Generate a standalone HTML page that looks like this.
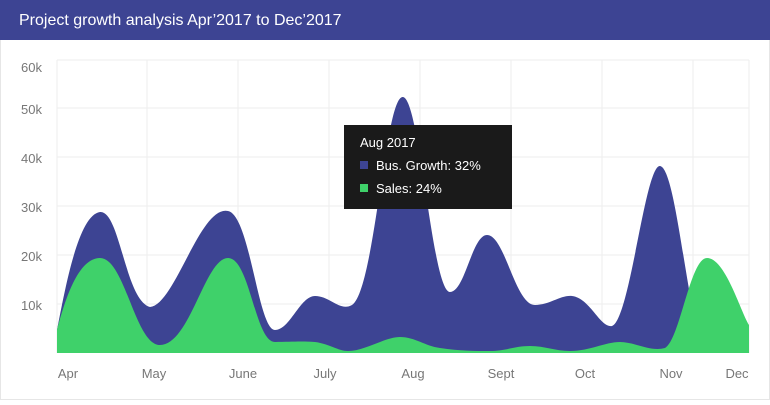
<!DOCTYPE html>
<html><head><style>
body{margin:0;width:770px;height:400px;background:#fff;font-family:"Liberation Sans",sans-serif;overflow:hidden}
</style></head><body>
<svg width="770" height="400" xmlns="http://www.w3.org/2000/svg">
<rect x="0.5" y="0.5" width="769" height="399" fill="#fff" stroke="#e6e6e6"/>
<rect x="0" y="0" width="770" height="40" fill="#3d4493"/>
<text x="19" y="25" fill="#fff" font-size="16">Project growth analysis Apr’2017 to Dec’2017</text>
<g stroke="#eeeeee" stroke-width="1">
<line x1="57" y1="60" x2="749" y2="60"/><line x1="57" y1="108" x2="749" y2="108"/>
<line x1="57" y1="157" x2="749" y2="157"/><line x1="57" y1="206" x2="749" y2="206"/>
<line x1="57" y1="255" x2="749" y2="255"/><line x1="57" y1="304" x2="749" y2="304"/>
<line x1="57" y1="60" x2="57" y2="353"/><line x1="147" y1="60" x2="147" y2="353"/>
<line x1="238" y1="60" x2="238" y2="353"/><line x1="329" y1="60" x2="329" y2="353"/>
<line x1="420" y1="60" x2="420" y2="353"/><line x1="511" y1="60" x2="511" y2="353"/>
<line x1="602" y1="60" x2="602" y2="353"/><line x1="693" y1="60" x2="693" y2="353"/>
<line x1="749" y1="60" x2="749" y2="353"/>
</g>
<g fill="#777" font-size="13" text-anchor="end">
<text x="42" y="72">60k</text><text x="42" y="114">50k</text><text x="42" y="163">40k</text>
<text x="42" y="212">30k</text><text x="42" y="261">20k</text><text x="42" y="310">10k</text>
</g>
<g fill="#777" font-size="13" text-anchor="middle">
<text x="68" y="378">Apr</text><text x="154" y="378">May</text><text x="243" y="378">June</text>
<text x="325" y="378">July</text><text x="413" y="378">Aug</text><text x="501" y="378">Sept</text>
<text x="585" y="378">Oct</text><text x="671" y="378">Nov</text><text x="737" y="378">Dec</text>
</g>
<path fill="#3d4493" d="M57,330 C65,290 78,215 100,212 C120,210 125,300 150,307 C175,305 200,205 228,211 C250,215 258,330 275,330 C290,330 300,296 315,296 C330,296 340,312 352,305 C375,290 385,95 403,97 C420,99 432,292 450,292 C465,292 472,235 487,235 C505,235 515,305 535,305 C550,305 560,295 572,296 C590,298 600,328 612,326 C630,320 645,165 660,166 C675,168 685,290 700,340 L700,353 L57,353 Z"/>
<path fill="#3fd16a" d="M57,330 C65,300 78,258 100,258 C125,258 135,345 160,345 C190,345 205,258 228,258 C250,258 255,342 275,342 C290,342 300,341 315,342 C330,344 338,351 348,351 C365,351 385,337 400,337 C415,337 425,346 440,348 C460,351 475,351 490,351 C505,351 515,346 530,346 C545,346 555,351 570,351 C590,351 605,342 620,342 C635,342 650,352 665,348 C680,340 690,258 707,258 C725,258 740,310 749,325 L749,353 L57,353 Z"/>
<rect x="344" y="125" width="168" height="84" fill="#1a1a1a"/>
<text x="360" y="147" fill="#fff" font-size="13">Aug 2017</text>
<rect x="360" y="161" width="8" height="8" fill="#3d4493"/>
<text x="376" y="170" fill="#fff" font-size="13">Bus. Growth: 32%</text>
<rect x="360" y="184" width="8" height="8" fill="#3fd16a"/>
<text x="376" y="193" fill="#fff" font-size="13">Sales: 24%</text>
</svg>
</body></html>
